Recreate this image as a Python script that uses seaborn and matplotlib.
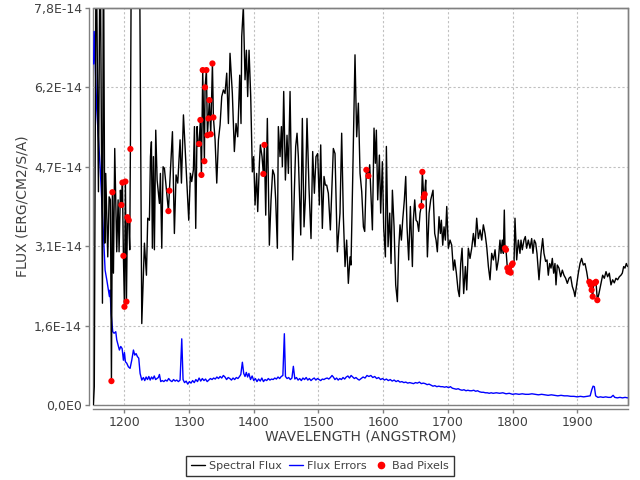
import numpy as np
import pandas as pd
import matplotlib
matplotlib.use("Agg")
import matplotlib.pyplot as plt
import seaborn as sns
from matplotlib.lines import Line2D
from matplotlib.ticker import FuncFormatter, FixedLocator

# ---------------- data (flux in units of 1E-14 erg/cm2/s/A) ----------------
flux_wave = [
    1152.0, 1153.5, 1156.3, 1159.9, 1162.5, 1166.1, 1167.6, 1169.7, 1171.2, 1174.3,
    1176.4, 1178.4, 1180.0, 1181.5, 1183.1, 1185.1, 1188.2, 1190.3, 1191.8, 1193.9,
    1195.4, 1197.0, 1198.5, 1200.1, 1201.6, 1203.2, 1204.7, 1206.8, 1208.3, 1209.3,
    1210.9, 1214.0, 1218.0, 1223.2, 1226.9, 1231.0, 1234.1, 1236.1, 1238.7, 1240.3,
    1241.8, 1243.3, 1244.9, 1246.4, 1248.5, 1250.6, 1254.2, 1255.7, 1257.8, 1259.8,
    1261.9, 1264.5, 1268.1, 1269.6, 1274.3, 1277.3, 1279.9, 1282.5, 1286.1, 1288.2,
    1291.3, 1293.8, 1296.4, 1299.5, 1302.1, 1304.1, 1306.7, 1308.3, 1310.3, 1312.4,
    1313.9, 1315.5, 1317.5, 1319.1, 1321.1, 1323.7, 1324.7, 1326.8, 1328.4, 1329.9,
    1331.4, 1333.5, 1336.1, 1337.6, 1340.2, 1342.8, 1345.4, 1347.9, 1350.5, 1353.1,
    1355.6, 1358.2, 1360.8, 1363.3, 1366.9, 1370.0, 1372.6, 1375.2, 1378.3, 1380.3,
    1381.4, 1383.9, 1386.5, 1388.6, 1390.6, 1392.7, 1395.3, 1397.8, 1399.9, 1402.0,
    1404.5, 1406.1, 1408.7, 1410.2, 1412.8, 1414.8, 1416.4, 1418.5, 1421.0, 1424.1,
    1426.7, 1429.3, 1431.8, 1433.9, 1436.5, 1438.0, 1440.6, 1442.7, 1444.2, 1446.3,
    1448.9, 1451.4, 1453.5, 1456.1, 1460.2, 1462.8, 1464.8, 1466.9, 1468.9, 1472.6,
    1475.1, 1477.7, 1479.8, 1482.3, 1485.4, 1488.5, 1491.1, 1493.7, 1496.2, 1498.8,
    1501.4, 1503.5, 1506.0, 1508.6, 1510.7, 1512.7, 1515.3, 1518.4, 1520.5, 1523.0,
    1525.6, 1529.2, 1533.3, 1535.9, 1538.5, 1541.1, 1543.6, 1546.2, 1548.8, 1550.3,
    1552.9, 1556.5, 1559.1, 1561.7, 1564.3, 1566.9, 1569.5, 1571.5, 1574.1, 1577.2,
    1579.2, 1583.4, 1585.9, 1588.0, 1589.5, 1591.6, 1594.2, 1596.2, 1598.8, 1600.9,
    1603.5, 1605.0, 1607.6, 1610.2, 1612.2, 1614.3, 1616.9, 1619.4, 1622.0, 1624.1,
    1626.1, 1628.2, 1630.2, 1632.8, 1634.9, 1636.9, 1639.5, 1642.1, 1645.2, 1646.7,
    1648.8, 1650.9, 1652.9, 1655.0, 1657.0, 1659.1, 1660.6, 1662.7, 1664.2, 1665.8,
    1668.4, 1671.0, 1673.5, 1677.1, 1679.7, 1681.8, 1683.8, 1686.4, 1688.5, 1690.0,
    1692.1, 1694.1, 1696.2, 1698.3, 1700.8, 1703.4, 1706.0, 1708.6, 1710.6, 1713.2,
    1715.8, 1717.8, 1719.9, 1722.0, 1724.5, 1727.1, 1729.2, 1731.7, 1734.3, 1736.9,
    1739.5, 1742.0, 1744.6, 1747.2, 1749.8, 1752.4, 1754.9, 1757.5, 1760.1, 1762.7,
    1765.2, 1767.8, 1770.4, 1773.0, 1775.5, 1778.1, 1780.6, 1782.2, 1784.2, 1785.8,
    1787.3, 1788.4, 1789.9, 1792.0, 1793.5, 1795.1, 1797.1, 1798.7, 1800.2, 1802.3,
    1803.8, 1806.4, 1809.0, 1811.5, 1813.1, 1815.1, 1817.7, 1819.8, 1821.8, 1824.4,
    1827.0, 1829.6, 1831.6, 1833.7, 1835.8, 1837.8, 1840.9, 1844.0, 1846.6, 1848.6,
    1851.2, 1853.3, 1855.3, 1857.4, 1859.5, 1861.5, 1863.6, 1865.6, 1867.2, 1869.2,
    1871.8, 1874.4, 1877.0, 1879.5, 1882.1, 1884.7, 1887.3, 1889.9, 1892.4, 1895.0,
    1896.5, 1899.1, 1901.7, 1904.3, 1906.8, 1909.4, 1912.0, 1914.6, 1916.6, 1918.7,
    1920.8, 1922.3, 1923.9, 1925.4, 1927.5, 1929.0, 1931.1, 1933.6, 1936.7, 1939.3,
    1941.9, 1944.5, 1947.0, 1949.6, 1952.2, 1954.8, 1957.3, 1959.9, 1962.5, 1965.1,
    1967.6, 1969.7, 1971.8, 1973.8, 1975.9, 1977.9,
]
flux_val = [
    0.00, 0.36, 9.50, 4.19, 9.50, 2.00, 9.50, 3.18, 4.55, 2.91,
    4.09, 4.03, 0.47, 4.18, 2.59, 5.04, 3.01, 4.03, 3.01, 4.22,
    3.93, 4.37, 2.93, 1.93, 4.39, 2.03, 3.69, 3.63, 3.05, 5.03,
    9.50, 10.5, 11.0, 9.50, 1.60, 3.18, 2.55, 3.67, 3.63, 4.88,
    5.17, 3.08, 4.88, 3.05, 5.40, 4.42, 3.96, 4.55, 3.08, 4.68,
    4.65, 4.29, 3.81, 4.21, 5.37, 3.37, 4.52, 4.36, 5.21, 4.36,
    5.70, 5.08, 4.42, 3.63, 4.55, 4.39, 4.62, 5.47, 3.47, 5.47,
    5.08, 5.13, 5.60, 4.52, 6.58, 4.79, 6.24, 6.58, 5.30, 5.63,
    5.99, 5.32, 6.71, 5.65, 5.21, 4.36, 5.21, 5.50, 6.06, 6.19,
    6.12, 6.52, 5.53, 6.91, 6.12, 4.98, 5.53, 5.27, 6.48, 5.53,
    7.24, 7.83, 6.39, 6.97, 6.06, 6.97, 6.06, 4.58, 4.88, 3.93,
    4.55, 3.80, 4.75, 5.11, 4.88, 4.54, 5.11, 3.73, 5.63, 3.14,
    4.03, 4.62, 4.52, 4.03, 3.08, 5.47, 4.88, 5.47, 4.68, 6.16,
    4.42, 5.30, 4.55, 6.16, 2.85, 4.22, 5.08, 5.34, 4.88, 3.34,
    5.63, 3.50, 4.06, 5.63, 4.26, 3.27, 4.98, 4.16, 4.88, 4.94,
    3.93, 5.11, 3.47, 4.49, 4.32, 4.32, 4.16, 3.44, 4.16, 5.04,
    4.94, 3.01, 3.77, 5.34, 3.70, 2.72, 3.24, 2.39, 2.91, 2.75,
    4.42, 6.88, 5.27, 5.93, 4.55, 4.19, 3.50, 3.41, 4.62, 4.50,
    4.72, 3.44, 5.44, 4.75, 5.40, 4.03, 4.91, 3.77, 4.78, 3.47,
    2.91, 5.08, 3.11, 3.77, 2.78, 4.22, 3.50, 2.36, 2.03, 3.08,
    3.54, 3.24, 3.63, 4.03, 4.49, 3.50, 2.85, 3.90, 2.72, 3.63,
    4.03, 3.63, 3.60, 3.41, 3.77, 3.91, 4.58, 4.08, 4.14, 4.42,
    2.91, 3.77, 4.03, 4.22, 3.37, 3.24, 3.01, 3.70, 3.37, 3.63,
    3.14, 3.50, 3.24, 3.90, 3.08, 3.24, 3.14, 2.65, 2.85, 2.59,
    2.26, 2.13, 2.78, 3.08, 2.19, 2.72, 2.26, 3.08, 2.88, 3.08,
    3.37, 3.11, 3.67, 3.27, 3.44, 3.24, 3.54, 3.37, 3.11, 2.72,
    2.46, 2.98, 2.85, 3.05, 2.65, 2.85, 3.24, 2.98, 3.24, 2.98,
    3.83, 3.08, 3.05, 2.69, 2.62, 2.65, 2.60, 2.75, 2.78, 2.78,
    3.67, 2.85, 3.24, 2.98, 3.24, 3.05, 3.24, 3.31, 3.08, 3.24,
    3.08, 3.27, 2.98, 3.24, 3.18, 2.98, 2.46, 2.98, 3.27, 2.98,
    2.82, 2.85, 2.55, 2.78, 2.69, 2.88, 2.59, 2.78, 2.36, 2.75,
    2.69, 2.52, 2.65, 2.55, 2.49, 2.39, 2.49, 2.52, 2.33, 2.23,
    2.13, 2.36, 2.59, 2.78, 2.88, 2.75, 2.78, 2.62, 2.46, 2.42,
    2.36, 2.26, 2.13, 2.39, 2.40, 2.42, 2.06, 2.19, 2.39, 2.55,
    2.49, 2.62, 2.52, 2.59, 2.36, 2.46, 2.40, 2.49, 2.46, 2.52,
    2.55, 2.59, 2.72, 2.69, 2.78, 2.72,
]

err_wave = [
    1152.5, 1153.3, 1157.3, 1162.5, 1167.6, 1170.2, 1172.8, 1175.3, 1176.9, 1177.9,
    1179.5, 1182.0, 1184.1, 1186.7, 1188.2, 1190.8, 1192.3, 1194.4, 1196.5, 1198.5,
    1200.1, 1201.6, 1203.7, 1206.2, 1208.8, 1211.4, 1214.0, 1216.0, 1218.1, 1220.2,
    1222.2, 1224.3, 1226.9, 1229.4, 1231.5, 1233.6, 1235.7, 1237.8, 1239.9, 1242.0,
    1244.1, 1246.2, 1248.3, 1250.4, 1252.5, 1254.2, 1256.2, 1258.5, 1261.0, 1263.5,
    1266.0, 1268.5, 1271.0, 1273.5, 1276.0, 1278.5, 1281.0, 1283.5, 1286.1, 1288.7,
    1290.7, 1293.0, 1295.5, 1298.0, 1300.5, 1303.0, 1305.5, 1308.0, 1310.5, 1313.0,
    1315.5, 1318.0, 1320.5, 1323.0, 1325.5, 1328.0, 1330.5, 1333.0, 1335.5, 1338.0,
    1340.5, 1343.0, 1345.5, 1348.0, 1350.5, 1353.0, 1355.5, 1358.0, 1360.5, 1363.0,
    1365.5, 1368.0, 1370.5, 1373.0, 1375.5, 1378.0, 1380.0, 1382.4, 1384.5, 1386.5,
    1388.5, 1390.5, 1392.5, 1395.0, 1397.5, 1400.0, 1402.5, 1405.0, 1407.5, 1410.0,
    1412.5, 1415.0, 1417.5, 1420.0, 1422.5, 1425.0, 1427.5, 1430.0, 1432.5, 1435.0,
    1437.5, 1440.0, 1442.5, 1445.0, 1447.3, 1449.0, 1451.5, 1454.0, 1456.5, 1459.0,
    1461.2, 1463.5, 1466.0, 1468.5, 1471.0, 1473.5, 1476.0, 1478.5, 1481.0, 1483.5,
    1486.0, 1488.5, 1491.0, 1493.5, 1496.0, 1498.5, 1501.0, 1503.5, 1506.0, 1508.5,
    1511.0, 1513.5, 1516.0, 1518.5, 1521.0, 1523.0, 1525.5, 1528.0, 1530.5, 1533.0,
    1535.5, 1538.0, 1540.5, 1543.0, 1545.5, 1548.0, 1550.5, 1553.0, 1555.5, 1558.0,
    1560.5, 1563.0, 1566.0, 1569.0, 1572.0, 1575.0, 1578.0, 1581.0, 1584.0, 1587.0,
    1590.0, 1593.0, 1596.0, 1599.0, 1602.0, 1605.0, 1608.0, 1611.0, 1614.0, 1617.0,
    1620.0, 1623.0, 1626.0, 1629.0, 1632.0, 1635.0, 1638.0, 1641.0, 1644.0, 1647.0,
    1650.0, 1653.0, 1656.0, 1659.0, 1662.0, 1665.0, 1668.0, 1671.0, 1674.0, 1677.0,
    1680.0, 1683.0, 1686.0, 1689.0, 1692.0, 1695.0, 1698.0, 1701.0, 1704.0, 1707.0,
    1710.0, 1713.0, 1716.0, 1719.0, 1722.0, 1725.0, 1728.0, 1731.0, 1734.0, 1737.0,
    1740.0, 1743.0, 1746.0, 1749.0, 1752.0, 1755.0, 1758.0, 1761.0, 1764.0, 1767.0,
    1770.0, 1775.0, 1780.0, 1785.0, 1790.0, 1795.0, 1800.0, 1805.0, 1810.0, 1815.0,
    1820.0, 1825.0, 1830.0, 1835.0, 1840.0, 1845.0, 1850.0, 1855.0, 1860.0, 1865.0,
    1870.0, 1875.0, 1880.0, 1885.0, 1890.0, 1895.0, 1900.0, 1905.0, 1910.0, 1915.0,
    1920.0, 1922.5, 1924.5, 1926.5, 1928.5, 1932.0, 1936.0, 1940.0, 1944.0, 1948.0,
    1952.0, 1955.5, 1958.0, 1962.0, 1966.0, 1970.0, 1974.0, 1978.0,
]
err_val = [
    6.70, 7.34, 5.80, 4.68, 3.37, 2.65, 2.46, 2.26, 2.13, 2.26,
    1.80, 1.44, 1.41, 1.44, 1.28, 1.15, 1.08, 1.15, 1.11, 0.88,
    1.03, 0.85, 0.82, 0.75, 0.72, 0.88, 1.08, 0.98, 1.01, 0.95,
    0.92, 0.62, 0.49, 0.54, 0.48, 0.55, 0.50, 0.56, 0.49, 0.55,
    0.51, 0.57, 0.50, 0.52, 0.54, 0.60, 0.46, 0.48, 0.46, 0.49,
    0.47, 0.52, 0.48, 0.46, 0.50, 0.47, 0.49, 0.46, 0.49, 1.30,
    0.50, 0.44, 0.47, 0.41, 0.46, 0.43, 0.48, 0.44, 0.50, 0.46,
    0.53, 0.47, 0.52, 0.48, 0.51, 0.46, 0.49, 0.52, 0.50, 0.53,
    0.51, 0.55, 0.52, 0.56, 0.53, 0.58, 0.55, 0.50, 0.54, 0.52,
    0.49, 0.53, 0.50, 0.54, 0.52, 0.56, 0.60, 0.84, 0.62, 0.56,
    0.64, 0.55, 0.62, 0.50, 0.57, 0.48, 0.52, 0.46, 0.51, 0.47,
    0.53, 0.46, 0.50, 0.48, 0.52, 0.49, 0.51, 0.50, 0.53, 0.51,
    0.55, 0.52, 0.56, 0.58, 1.40, 0.56, 0.52, 0.54, 0.50, 0.53,
    0.76, 0.51, 0.54, 0.49, 0.52, 0.48, 0.53, 0.50, 0.54, 0.49,
    0.52, 0.48, 0.51, 0.53, 0.49, 0.52, 0.50, 0.48, 0.51, 0.50,
    0.52, 0.53, 0.51, 0.54, 0.58, 0.55, 0.50, 0.53, 0.49, 0.52,
    0.50, 0.54, 0.51, 0.55, 0.57, 0.53, 0.58, 0.55, 0.52, 0.54,
    0.51, 0.49, 0.52, 0.55, 0.53, 0.58, 0.56, 0.58, 0.54, 0.56,
    0.52, 0.54, 0.50, 0.52, 0.49, 0.51, 0.48, 0.50, 0.47, 0.49,
    0.46, 0.48, 0.45, 0.46, 0.44, 0.45, 0.43, 0.44, 0.43, 0.42,
    0.44, 0.43, 0.45, 0.42, 0.43, 0.42, 0.40, 0.41, 0.39, 0.37,
    0.38, 0.36, 0.37, 0.36, 0.36, 0.35, 0.36, 0.34, 0.36, 0.33,
    0.32, 0.31, 0.32, 0.30, 0.29, 0.30, 0.28, 0.29, 0.28, 0.28,
    0.29, 0.27, 0.28, 0.26, 0.25, 0.25, 0.24, 0.24, 0.23, 0.24,
    0.23, 0.24, 0.23, 0.24, 0.22, 0.23, 0.21, 0.22, 0.21, 0.22,
    0.21, 0.21, 0.22, 0.21, 0.20, 0.21, 0.20, 0.19, 0.20, 0.19,
    0.18, 0.19, 0.18, 0.18, 0.17, 0.17, 0.16, 0.17, 0.16, 0.17,
    0.18, 0.30, 0.37, 0.36, 0.18, 0.15, 0.16, 0.15, 0.16, 0.15,
    0.15, 0.19, 0.15, 0.14, 0.15, 0.14, 0.15, 0.14,
]

bad_wave = [
    1180.0, 1181.5, 1195.4, 1197.0, 1198.5, 1200.1, 1201.6, 1203.2, 1204.7, 1206.8,
    1209.3, 1268.1, 1269.6, 1315.5, 1317.5, 1319.1, 1321.1, 1323.7, 1324.7, 1326.8,
    1328.4, 1329.9, 1331.4, 1333.5, 1336.1, 1337.6, 1414.8, 1416.4, 1574.1, 1577.2,
    1659.1, 1660.6, 1662.7, 1664.2, 1788.4, 1789.9, 1792.0, 1793.5, 1795.1, 1797.1,
    1798.7, 1800.2, 1918.7, 1920.8, 1922.3, 1923.9, 1925.4, 1927.5, 1929.0, 1931.1,
]
bad_val = [
    0.47, 4.18, 3.93, 4.37, 2.93, 1.93, 4.39, 2.03, 3.69, 3.63,
    5.03, 3.81, 4.21, 5.13, 5.60, 4.52, 6.58, 4.79, 6.24, 6.58,
    5.30, 5.63, 5.99, 5.32, 6.71, 5.65, 4.54, 5.11, 4.62, 4.50,
    3.91, 4.58, 4.08, 4.14, 3.08, 3.05, 2.69, 2.62, 2.65, 2.60,
    2.75, 2.78, 2.42, 2.36, 2.26, 2.13, 2.39, 2.40, 2.42, 2.06,
]

y_ticks = [0.0, 1.56, 3.12, 4.68, 6.24, 7.8]
x_ticks = [1200, 1300, 1400, 1500, 1600, 1700, 1800, 1900]
series_labels = ["Spectral Flux", "Flux Errors", "Bad Pixels"]

SCALE = 1e-14
flux_df = pd.DataFrame({"wave": flux_wave, "flux": np.array(flux_val) * SCALE})
err_df = pd.DataFrame({"wave": err_wave, "flux": np.array(err_val) * SCALE})
bad_df = pd.DataFrame({"wave": bad_wave, "flux": np.array(bad_val) * SCALE})

# ---------------- style ----------------
sns.set_theme(style="white")
plt.rcParams["font.family"] = ["DejaVu Sans"]
txt = "#404040"
axc = "#808080"

fig = plt.figure(figsize=(6.4, 4.8), dpi=100)
ax = fig.add_axes([93 / 640, 1 - 405 / 480, (628 - 93) / 640, (405 - 8) / 480])

sns.lineplot(data=err_df, x="wave", y="flux", ax=ax, color="#0000ff", lw=1.0,
             estimator=None, sort=False, legend=False)
sns.lineplot(data=flux_df, x="wave", y="flux", ax=ax, color="black", lw=1.0,
             estimator=None, sort=False, legend=False)
sns.scatterplot(data=bad_df, x="wave", y="flux", ax=ax, color="#ff0000", s=20,
                edgecolor="none", legend=False, zorder=5)

ax.set_xlim(1151.5, 1978.5)
ax.set_ylim(0, 7.8e-14)
ax.xaxis.set_major_locator(FixedLocator(x_ticks))
ax.yaxis.set_major_locator(FixedLocator([v * SCALE for v in y_ticks]))


def yfmt(v, pos):
    m = v / SCALE
    if abs(m) < 1e-9:
        return "0,0E0"
    return f"{m:.1f}E-14".replace(".", ",")


ax.yaxis.set_major_formatter(FuncFormatter(yfmt))
ax.xaxis.set_major_formatter(FuncFormatter(lambda v, p: f"{int(v)}"))

ax.grid(True, color="#c0c0c0", linestyle=(0, (2, 2)), linewidth=0.8)
ax.set_axisbelow(True)

# plot outline
ax.patch.set_edgecolor(axc)
ax.patch.set_linewidth(1.0)
for s in ["top", "right"]:
    ax.spines[s].set_color(axc)
    ax.spines[s].set_linewidth(1.0)
for s in ["left", "bottom"]:
    ax.spines[s].set_color(axc)
    ax.spines[s].set_linewidth(1.0)
    ax.spines[s].set_position(("outward", 3))

ax.tick_params(axis="both", which="major", direction="out", length=3, width=1,
               color=axc, labelcolor=txt, labelsize=9, pad=2,
               bottom=True, left=True)

ax.set_xlabel("WAVELENGTH (ANGSTROM)", fontsize=10, color=txt)
ax.set_ylabel("FLUX (ERG/CM2/S/A)", fontsize=10, color=txt)
ax.xaxis.set_label_coords(0.5, -0.062)
ax.yaxis.set_label_coords(-0.118, 0.5)

handles = [
    Line2D([], [], color="black", lw=1.0),
    Line2D([], [], color="#0000ff", lw=1.0),
    Line2D([], [], color="#ff0000", lw=0, marker="o", markersize=4.5),
]
leg = fig.legend(handles, series_labels, loc="lower center", bbox_to_anchor=(0.5, 0.004),
                 ncol=3, fontsize=8, frameon=True, fancybox=False, handlelength=1.25,
                 handletextpad=0.35, columnspacing=0.65, borderpad=0.45, borderaxespad=0.2)
leg.get_frame().set_edgecolor("black")
leg.get_frame().set_linewidth(1.0)
for t in leg.get_texts():
    t.set_color(txt)

fig.savefig("out.png", dpi=100)
